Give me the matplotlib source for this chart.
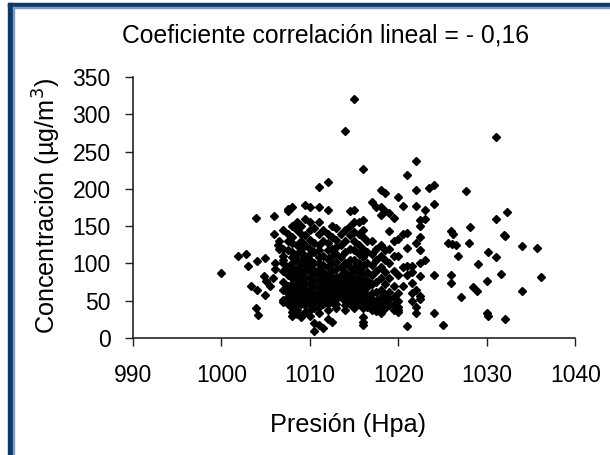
import matplotlib
matplotlib.use("Agg")
import matplotlib.pyplot as plt
from matplotlib.patches import Rectangle

# sparse points on the left of the cloud
pres_left = [1000, 1001.9, 1002.8, 1003, 1003.9, 1004, 1003.3, 1004, 1003.9, 1004.1,
             1004.9, 1004.8, 1005, 1004.9, 1005.9, 1005.9, 1006.4, 1006, 1006, 1005.8,
             1006.5, 1006.5, 1005.5]
conc_left = [87, 110, 112, 96, 161, 103, 70, 65, 40, 31,
             107, 83, 76, 58, 163, 139, 125, 100, 92, 80,
             130, 120, 70]

# sparse points on the right of the cloud
pres_right = [1026, 1026.2, 1025.6, 1026.1, 1026.5, 1026.8, 1025.9, 1025.9, 1027.1, 1028.1,
              1028, 1029, 1028.4, 1028.9, 1030.1, 1031, 1030, 1030, 1030.1, 1031,
              1032.3, 1032, 1032.1, 1031.6, 1032.1, 1034, 1035.7, 1036.1, 1034, 1031,
              1027.7, 1025.1]
conc_right = [143, 139, 128, 126, 125, 110, 84, 74, 55, 149,
              128, 99, 69, 63, 115, 109, 76, 33, 30, 159,
              169, 138, 137, 86, 25, 123, 121, 82, 63, 269,
              197, 18]

# pressure columns of the dense cloud and their concentrations
col_p = [1007, 1007.5, 1008, 1008.5, 1009, 1009.5, 1010, 1010.5, 1011, 1011.5,
         1012, 1012.5, 1013, 1013.5, 1014, 1014.5, 1015, 1015.5, 1016, 1016.5,
         1017, 1017.5, 1018, 1018.5, 1019, 1019.5, 1020, 1020.5, 1021, 1021.5,
         1022, 1022.5, 1023, 1023.5, 1024]
col_c = [
    [145, 120, 110, 100, 90, 75, 65, 51, 48, 105],
    [173, 170, 140, 130, 95, 85, 70, 60, 55, 45, 118],
    [175, 150, 135, 128, 115, 108, 100, 95, 88, 80, 72, 65, 58, 52, 47, 40, 35, 30],
    [155, 145, 125, 112, 103, 92, 85, 75, 68, 62, 55, 50, 45, 38, 32],
    [150, 140, 130, 120, 115, 105, 98, 90, 85, 78, 70, 63, 57, 50, 45, 30, 28],
    [178, 160, 138, 125, 110, 100, 92, 82, 74, 66, 58, 52, 44, 35],
    [175, 155, 145, 132, 120, 112, 105, 96, 88, 80, 72, 65, 58, 50, 46, 38, 30],
    [148, 128, 115, 100, 90, 84, 76, 68, 60, 54, 48, 40, 10, 20],
    [203, 175, 155, 140, 125, 118, 108, 100, 92, 86, 78, 70, 62, 55, 48, 42, 33, 18],
    [145, 130, 110, 98, 88, 80, 72, 65, 58, 52, 45, 14],
    [209, 171, 140, 128, 118, 106, 95, 85, 76, 70, 64, 58, 52, 45, 38, 25],
    [150, 135, 120, 110, 100, 90, 80, 72, 66, 60, 55, 48, 22],
    [148, 132, 122, 112, 102, 92, 82, 75, 70, 66, 62, 58, 52, 45, 40],
    [140, 125, 108, 95, 85, 78, 72, 68, 64, 60, 55],
    [278, 145, 130, 115, 100, 88, 80, 74, 70, 66, 62, 56, 50, 44, 38],
    [170, 150, 138, 120, 105, 95, 85, 76, 70, 65, 60, 54, 46],
    [321, 172, 155, 142, 130, 118, 105, 95, 88, 80, 72, 66, 58, 50, 44, 40],
    [155, 140, 125, 112, 100, 90, 82, 75, 68, 60, 52, 45],
    [227, 158, 145, 135, 120, 108, 96, 86, 78, 70, 62, 55, 48, 40, 28, 22, 18],
    [130, 115, 100, 88, 78, 68, 58, 50, 42],
    [183, 130, 112, 98, 85, 72, 60, 52, 45, 38],
    [175, 120, 105, 90, 75, 62, 50, 42, 36],
    [198, 175, 165, 125, 110, 95, 80, 65, 55, 45, 38, 34],
    [195, 170, 118, 105, 88, 72, 58, 48, 40],
    [168, 144, 120, 100, 80, 62, 52, 44],
    [161, 130, 110, 90, 70, 55, 45, 38],
    [189, 133, 110, 85, 60, 50, 42, 38, 35],
    [177, 140, 95, 70],
    [218, 141, 121, 96, 85, 16],
    [96, 89, 74, 60, 50],
    [237, 198, 177, 127, 65, 42, 34],
    [158, 150, 136, 118, 100, 83, 56, 53],
    [172, 160, 105],
    [201],
    [205, 179, 85, 33],
]

x_ticks = [990, 1000, 1010, 1020, 1030, 1040]
y_ticks = [0, 50, 100, 150, 200, 250, 300, 350]

plt.rcParams["font.family"] = ["Liberation Sans", "DejaVu Sans"]

pres = list(pres_left) + list(pres_right)
conc = list(conc_left) + list(conc_right)
for p, cs in zip(col_p, col_c):
    pres += [p] * len(cs)
    conc += cs

fig = plt.figure(figsize=(6.1, 4.55), dpi=100)
ax = fig.add_axes([0.218, 0.257, 0.725, 0.574])

ax.plot(pres, conc, linestyle="none", marker="D", ms=4.0, color="black")

ax.set_xlim(990, 1040)
ax.set_ylim(0, 350)
ax.set_xticks(x_ticks)
ax.set_yticks(y_ticks)
ax.spines["top"].set_visible(False)
ax.spines["right"].set_visible(False)
for s in ["left", "bottom"]:
    ax.spines[s].set_linewidth(1.2)
    ax.spines[s].set_color("#222222")
ax.tick_params(axis="both", direction="out", length=6, width=1.0,
               color="#222222", labelsize=16.5)
ax.tick_params(axis="y", pad=10)
ax.tick_params(axis="x", pad=13)

fig.text(0.533, 0.922, "Coeficiente correlación lineal = - 0,16", ha="center",
         va="center", fontsize=17.8)
fig.text(0.077, 0.547, "Concentración (µg/m$^3$)", ha="center", va="center",
         rotation=90, fontsize=18.2)
fig.text(0.570, 0.066, "Presión (Hpa)", ha="center", va="center", fontsize=18.2)

# dark blue frame of the window
fig.patches.append(Rectangle((8 / 610, 1 - 7 / 455), 1, 4 / 455, transform=fig.transFigure,
                             color="#0b3a6e", zorder=5))
fig.patches.append(Rectangle((8 / 610, 0), 5 / 610, 1 - 3 / 455, transform=fig.transFigure,
                             color="#0b3a6e", zorder=5))
fig.patches.append(Rectangle((13 / 610, 1 - 8 / 455), 1, 1 / 455, transform=fig.transFigure,
                             color="#7f9cc0", zorder=5))
fig.patches.append(Rectangle((13 / 610, 0), 1 / 610, 1 - 7 / 455, transform=fig.transFigure,
                             color="#7f9cc0", zorder=5))

fig.savefig("out.png", dpi=100)
